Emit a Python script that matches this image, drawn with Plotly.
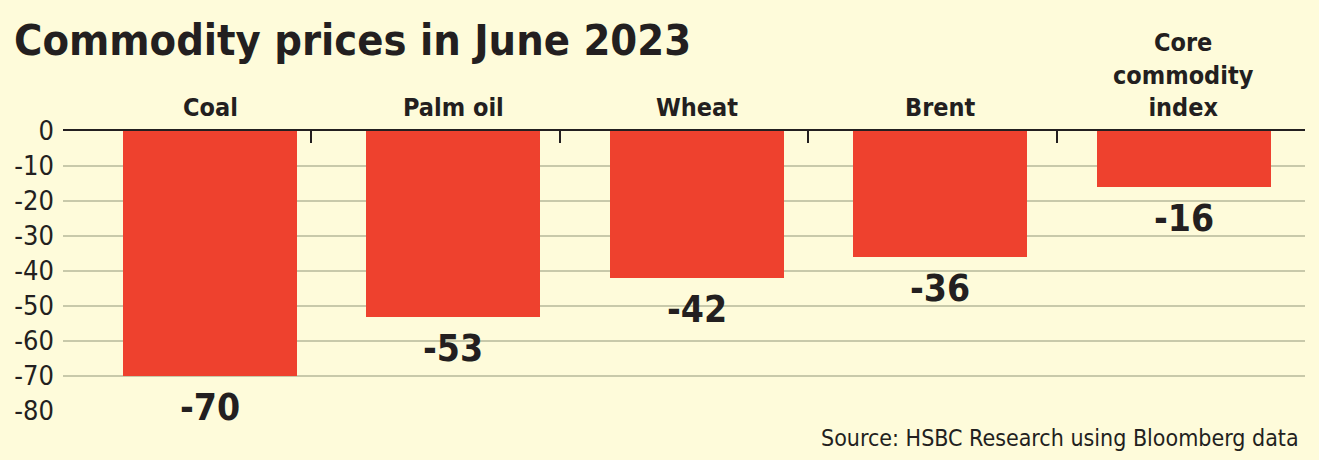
import plotly.graph_objects as go

categories = ["Coal", "Palm oil", "Wheat", "Brent", "Core<br>commodity<br>index"]
values = [-70, -53, -42, -36, -16]
y_ticks = [0, -10, -20, -30, -40, -50, -60, -70, -80]
title_text = "Commodity prices in June 2023"
source_text = "Source: HSBC Research using Bloomberg data"

BG = "#FEFBDA"
BAR = "#EE412E"
GRID = "#C8C9AA"
INK = "#231F20"
COND = "Liberation Sans Narrow, DejaVu Sans Condensed, Arial Narrow, sans-serif"

xs = list(range(len(categories)))

fig = go.Figure()
fig.add_trace(go.Bar(x=xs, y=values, width=0.715, marker=dict(color=BAR, line=dict(width=0)),
                     showlegend=False, hoverinfo="skip"))
fig.add_trace(go.Scatter(x=[None], y=[None], xaxis="x2", showlegend=False, hoverinfo="skip"))

for x, v in zip(xs, values):
    fig.add_annotation(x=x, y=v, xref="x", yref="y", text=f"<b>{v}</b>", showarrow=False,
                       yanchor="top", yshift=-8, font=dict(family=COND, size=37, color=INK))

for x, c in zip(xs, categories):
    fig.add_annotation(x=x, y=1, xref="x", yref="paper", text=f"<b>{c}</b>", showarrow=False,
                       yanchor="bottom", yshift=8, borderpad=0,
                       font=dict(family=COND, size=25, color=INK))

fig.add_annotation(x=0.0, y=1, xref="paper", yref="paper", xanchor="left", yanchor="middle",
                   xshift=-51, yshift=91, text=f"<b>{title_text}</b>", showarrow=False,
                   font=dict(family=COND, size=43, color=INK))
fig.add_annotation(x=1, y=0, xref="paper", yref="paper", xanchor="right", yanchor="top",
                   xshift=-4, yshift=-12, text=source_text, showarrow=False,
                   font=dict(family=COND, size=23, color=INK))

fig.update_layout(
    width=1319, height=460,
    margin=dict(l=63, r=14, t=131, b=49),
    paper_bgcolor=BG, plot_bgcolor=BG,
    bargap=0,
    xaxis=dict(range=[-0.604, 4.499], showticklabels=False, showgrid=False, zeroline=False,
               showline=False, fixedrange=True),
    xaxis2=dict(overlaying="x", side="top", range=[0, 5], tickvals=[0, 1, 2, 3, 4, 5],
                ticks="inside", ticklen=12, tickwidth=2, tickcolor=INK, showticklabels=False,
                showline=True, linecolor=INK, linewidth=2, showgrid=False, zeroline=False,
                anchor="y"),
    yaxis=dict(range=[-80, 0], tickvals=y_ticks, ticktext=[str(t) for t in y_ticks],
               showgrid=True, gridcolor=GRID, gridwidth=2, zeroline=False, showline=False,
               ticks="", tickfont=dict(family=COND, size=27, color=INK), ticklabelstandoff=8),
)

fig.write_html("out.html")
